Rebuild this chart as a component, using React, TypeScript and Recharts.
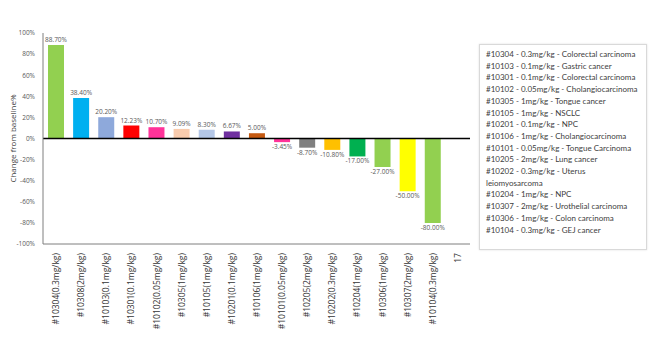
import { Bar, BarChart, Cell, LabelList, ReferenceLine, XAxis, YAxis } from 'recharts';

const categories = [
  '#10304(0.3mg/kg)',
  '#10308(2mg/kg)',
  '#10103(0.1mg/kg)',
  '#10301(0.1mg/kg)',
  '#10102(0.05mg/kg)',
  '#10305(1mg/kg)',
  '#10105(1mg/kg)',
  '#10201(0.1mg/kg)',
  '#10106(1mg/kg)',
  '#10101(0.05mg/kg)',
  '#10205(2mg/kg)',
  '#10202(0.3mg/kg)',
  '#10204(1mg/kg)',
  '#10306(1mg/kg)',
  '#10307(2mg/kg)',
  '#10104(0.3mg/kg)',
  '17',
];

const changes: (number | null)[] = [
  88.7, 38.4, 20.2, 12.23, 10.7, 9.09, 8.3, 6.67, 5.0, -3.45, -8.7, -10.8, -17.0, -27.0, -50.0, -80.0, null,
];

const barColors = [
  '#92D050', '#00B0F0', '#8EA9DB', '#FF0000', '#FF3399', '#F8CBAD', '#B4C7E7', '#7030A0',
  '#C55A11', '#FF3399', '#808080', '#FFC000', '#00B050', '#92D050', '#FFFF00', '#92D050', '#FFFFFF',
];

const yTicks = [-100, -80, -60, -40, -20, 0, 20, 40, 60, 80, 100];

const legendItems = [
  '#10304 - 0.3mg/kg - Colorectal carcinoma',
  '#10103 - 0.1mg/kg - Gastric cancer',
  '#10301 - 0.1mg/kg - Colorectal carcinoma',
  '#10102 - 0.05mg/kg - Cholangiocarcinoma',
  '#10305 - 1mg/kg - Tongue cancer',
  '#10105 - 1mg/kg - NSCLC',
  '#10201 - 0.1mg/kg - NPC',
  '#10106 - 1mg/kg - Cholangiocarcinoma',
  '#10101 - 0.05mg/kg - Tongue Carcinoma',
  '#10205 - 2mg/kg - Lung cancer',
  '#10202 - 0.3mg/kg - Uterus\nleiomyosarcoma',
  '#10204 - 1mg/kg - NPC',
  '#10307 - 2mg/kg - Urothelial carcinoma',
  '#10306 - 1mg/kg - Colon carcinoma',
  '#10104 - 0.3mg/kg - GEJ cancer',
];

const data = categories.map((name, i) => ({ name, value: changes[i], color: barColors[i] }));

const FONT = '"Open Sans", "Noto Sans", sans-serif';

function XTick({ x, y, payload }: any) {
  return (
    <text
      x={x}
      y={y + 1}
      transform={`rotate(-90 ${x} ${y + 1})`}
      textAnchor="end"
      dominantBaseline="central"
      fontSize={8.5}
      fontFamily={FONT}
      fill="#333"
    >
      {payload.value}
    </text>
  );
}

function ValueLabel({ x, y, width, height, value }: any) {
  if (value == null) return null;
  const top = Math.min(y, y + height);
  const bottom = Math.max(y, y + height);
  const cx = x + width / 2;
  const ty = value < 0 ? bottom + 7 : top - 3;
  return (
    <text x={cx} y={ty} textAnchor="middle" fontSize={6.5} fontFamily={FONT} fill="#595959">
      {value.toFixed(2)}%
    </text>
  );
}

export default function App() {
  return (
    <div style={{ position: 'absolute', left: 0, top: 0, width: 661, height: 355, background: '#fff' }}>
      <BarChart
        width={661}
        height={355}
        data={data}
        margin={{ top: 33, right: 191, bottom: 0, left: 0 }}
        barCategoryGap={0}
      >
        <YAxis
          width={43}
          domain={[-100, 100]}
          ticks={yTicks}
          interval={0}
          tickFormatter={(v) => `${v}%`}
          tickLine={false}
          axisLine={{ stroke: '#7f7f7f' }}
          tick={{ fontSize: 6.5, fontFamily: FONT, fill: '#595959' }}
          label={{
            value: 'Change from baseline%',
            angle: -90,
            position: 'insideLeft',
            offset: 13,
            style: { textAnchor: 'middle', fontSize: 8, fontFamily: FONT, fill: '#404040' },
          }}
        />
        <XAxis
          dataKey="name"
          height={111}
          interval={0}
          tickLine={false}
          axisLine={{ stroke: '#7f7f7f' }}
          tick={<XTick />}
        />
        <ReferenceLine y={0} stroke="#000" strokeWidth={1.5} />
        <Bar dataKey="value" barSize={16} isAnimationActive={false}>
          {data.map((d, i) => (
            <Cell key={i} fill={d.color} />
          ))}
          <LabelList dataKey="value" content={<ValueLabel />} />
        </Bar>
      </BarChart>
      <div
        style={{
          position: 'absolute',
          left: 479,
          top: 44,
          width: 154,
          height: 196,
          padding: '4px 6px',
          border: '1px solid #d9d9d9',
          boxShadow: '0 0 2px #e0e0e0',
          fontFamily: 'Lato, "Noto Sans", sans-serif',
          fontSize: 8,
          lineHeight: '11.7px',
          color: '#404040',
          whiteSpace: 'pre',
        }}
      >
        {legendItems.map((t) => (
          <div key={t}>{t}</div>
        ))}
      </div>
    </div>
  );
}
